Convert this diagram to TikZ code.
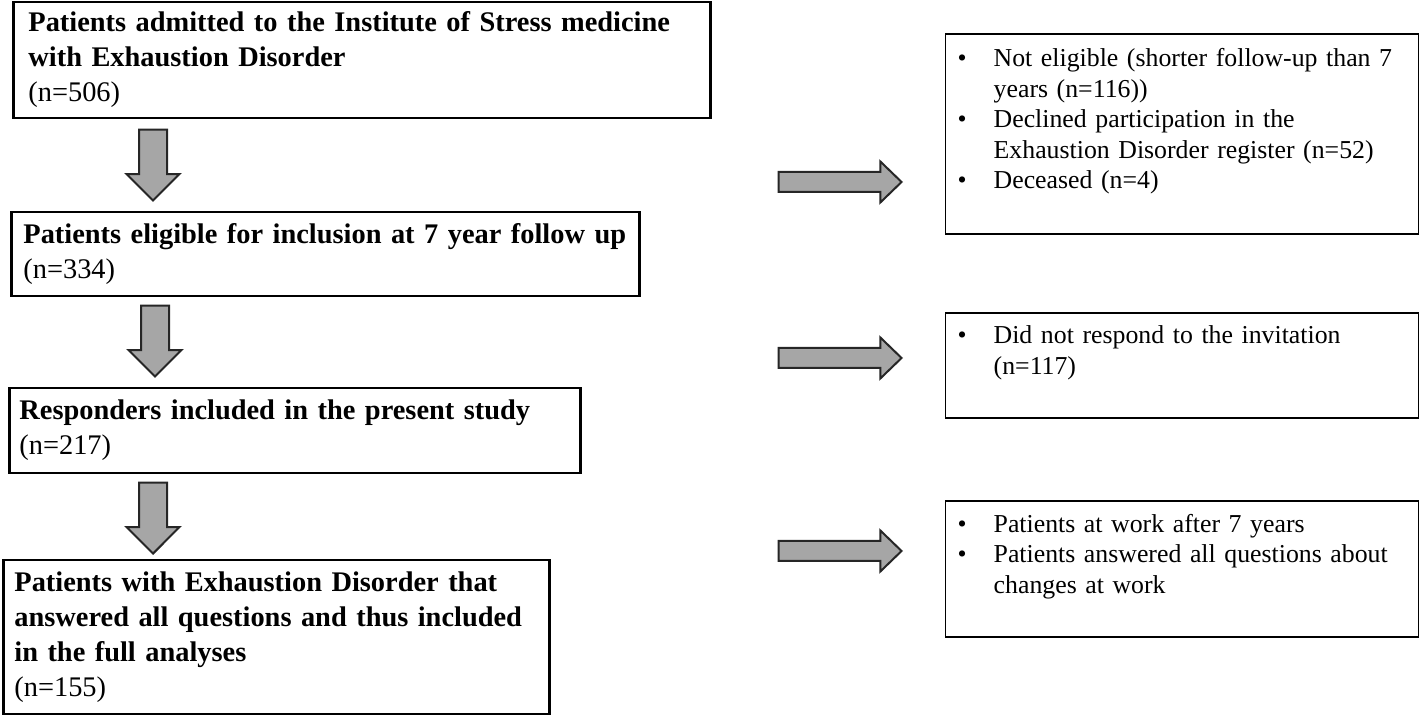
\documentclass[tikz,border=0pt]{standalone}
\usepackage{fontspec}
\setmainfont{Liberation Serif}
\usetikzlibrary{shapes.arrows}

\newcommand{\bul}{\makebox[18pt][l]{\textbullet}}
\newcommand{\ind}{\hspace*{18pt}}

\tikzset{
  flowbox/.style={draw, line width=1.4pt, rectangle, anchor=west, align=left,
    inner ysep=0pt, font=\bfseries\fontsize{14.2}{17.5}\selectfont},
  sidebox/.style={draw, line width=0.7pt, rectangle, anchor=west, align=left,
    inner xsep=6pt, inner ysep=0pt, text width=224.5pt,
    font=\fontsize{12.9}{15.25}\selectfont},
  downarrow/.style={single arrow, draw=black!85, fill=black!35, line width=1pt,
    shape border rotate=270, anchor=tip, inner sep=6.5pt,
    minimum width=25.5pt, minimum height=35.5pt, single arrow head extend=6.25pt},
  sidearrow/.style={single arrow, draw=black!85, fill=black!35, line width=1pt,
    anchor=tip, inner sep=4.5pt, single arrow tip angle=88,
    minimum width=19.5pt, minimum height=61.5pt, single arrow head extend=5.25pt}
}

\begin{document}
\begin{tikzpicture}[x=0.5pt,y=-0.5pt]
  \useasboundingbox (0,0) rectangle (1420,716);

  % main flow
  \node[flowbox, inner xsep=7.5pt, text width=333.5pt, minimum height=58pt] (admitted) at (12,60)
    {Patients admitted to the Institute of Stress medicine\\ with Exhaustion Disorder\\ \mdseries(n=506)};
  \node[flowbox, inner xsep=6pt, text width=302pt, minimum height=42pt] (eligible) at (10,254)
    {Patients eligible for inclusion at 7 year follow up\\ \mdseries(n=334)};
  \node[flowbox, inner xsep=5pt, text width=275.5pt, minimum height=42.5pt] (responders) at (8,430.5)
    {Responders included in the present study\\ \mdseries(n=217)};
  \node[flowbox, inner xsep=5.5pt, text width=262pt, minimum height=77pt] (analysed) at (2,637)
    {Patients with Exhaustion Disorder that\\ answered all questions and thus included\\ in the full analyses\\ \mdseries(n=155)};

  \node[downarrow] (d1) at (153,202) {};
  \node[downarrow] (d2) at (155,378) {};
  \node[downarrow] (d3) at (153,555) {};

  % side boxes
  \node[sidebox, minimum height=100pt] (notelig) at (945,134)
    {\bul Not eligible (shorter follow-up than 7\\ \ind years (n=116))\\
     \bul Declined participation in the\\ \ind Exhaustion Disorder register (n=52)\\
     \bul Deceased (n=4)\\ \mbox{}};
  \node[sidebox, minimum height=52.5pt] (noresp) at (945,365.5)
    {\bul Did not respond to the invitation\\ \ind (n=117)\\ \mbox{}};
  \node[sidebox, minimum height=68pt] (atwork) at (945,569)
    {\bul Patients at work after 7 years\\ \bul Patients answered all questions about\\ \ind changes at work\\ \mbox{}};

  \node[sidearrow] (r1) at (903,182) {};
  \node[sidearrow] (r2) at (903,358) {};
  \node[sidearrow] (r3) at (903,551) {};
\end{tikzpicture}
\end{document}
